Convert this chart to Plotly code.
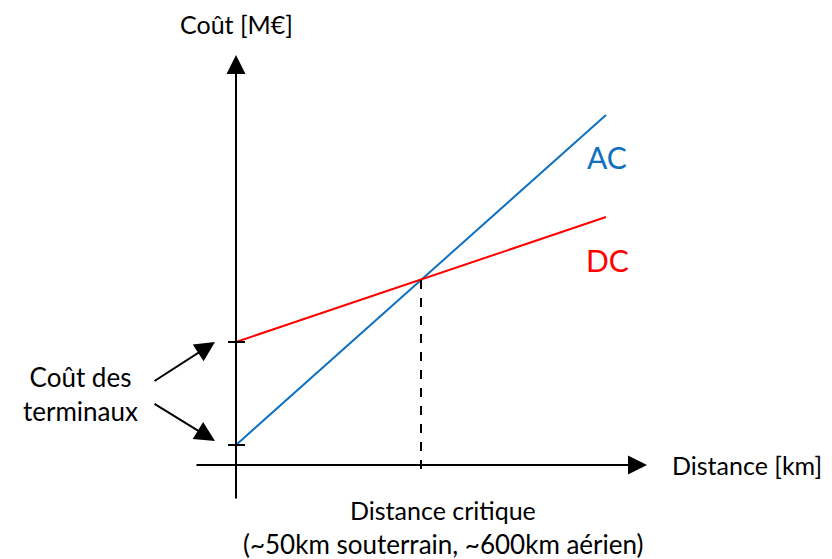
import plotly.graph_objects as go

# ---- data (arbitrary units; schematic) ----
distance = [0, 10]
cout_ac = [2.0, 35.0]
cout_dc = [12.3, 24.8]
distance_critique = 5.0
cout_critique = 18.5
serie_labels = ["AC", "DC"]
serie_colors = ["#1070C0", "#FF0000"]
axis_title_y = "Coût [M€]"
axis_title_x = "Distance [km]"
label_terminaux = "Coût des<br>terminaux"
label_critique = "Distance critique"
label_critique_note = "(~50km souterrain, ~600km aérien)"

FONT = "Lato"
BLACK = "#000000"
FS = 25

fig = go.Figure()

# AC and DC lines
fig.add_trace(go.Scatter(x=distance, y=cout_ac, mode="lines",
                         line=dict(color=serie_colors[0], width=2), showlegend=False, hoverinfo="skip"))
fig.add_trace(go.Scatter(x=distance, y=cout_dc, mode="lines",
                         line=dict(color=serie_colors[1], width=2), showlegend=False, hoverinfo="skip"))

# critical distance dashed line
fig.add_shape(type="line", x0=distance_critique, x1=distance_critique, y0=cout_critique, y1=-0.8,
              line=dict(color=BLACK, width=2, dash="dash"))

# axes drawn as arrows
fig.add_annotation(x=0, y=41.0, ax=0, ay=-3.5, xref="x", yref="y", axref="x", ayref="y",
                   text="", showarrow=True, arrowhead=2, arrowsize=1.9, arrowwidth=2, arrowcolor=BLACK)
fig.add_annotation(x=11.108, y=0, ax=-1.108, ay=0, xref="x", yref="y", axref="x", ayref="y",
                   text="", showarrow=True, arrowhead=2, arrowsize=1.9, arrowwidth=2, arrowcolor=BLACK)

# tick marks at terminal costs
for yv in [cout_dc[0], cout_ac[0]]:
    fig.add_shape(type="line", x0=-0.216, x1=0.243, y0=yv, y1=yv, line=dict(color=BLACK, width=2))

# arrows for terminal costs
fig.add_annotation(x=-0.568, y=cout_dc[0], ax=-2.243, ay=8.3, xref="x", yref="y", axref="x", ayref="y",
                   text="", showarrow=True, arrowhead=2, arrowsize=2.0, arrowwidth=2, arrowcolor=BLACK)
fig.add_annotation(x=-0.568, y=cout_ac[0] + 0.4, ax=-2.243, ay=6.2, xref="x", yref="y", axref="x", ayref="y",
                   text="", showarrow=True, arrowhead=2, arrowsize=2.0, arrowwidth=2, arrowcolor=BLACK)

# texts
def txt(x, y, s, size=FS, color=BLACK, xanchor="center"):
    fig.add_annotation(x=x, y=y, xref="x", yref="y", text=s, showarrow=False,
                       font=dict(family=FONT, size=size, color=color), xanchor=xanchor, yanchor="middle")

txt(0, 44.1, axis_title_y)
txt(11.73, 0, axis_title_x, xanchor="left")
txt(10.03, 30.8, serie_labels[0], size=30, color=serie_colors[0])
txt(10.03, 20.5, serie_labels[1], size=30, color=serie_colors[1])
fig.add_annotation(x=-4.216, y=7.1, xref="x", yref="y", text=label_terminaux, showarrow=False,
                   font=dict(family=FONT, size=26, color=BLACK), align="center")
txt(5.6, -4.5, label_critique)
txt(5.6, -7.9, label_critique_note, size=26)

# page body has an 8px margin: the figure sits at (8, 8) in the window
fig.update_layout(
    width=824, height=551,
    margin=dict(l=0, r=0, t=0, b=0),
    paper_bgcolor="white", plot_bgcolor="white",
    xaxis=dict(range=[(8 - 236) / 37, (832 - 236) / 37], visible=False, fixedrange=True),
    yaxis=dict(range=[(465 - 559) / 10, (465 - 8) / 10], visible=False, fixedrange=True),
    showlegend=False,
)

fig.write_html("out.html")
